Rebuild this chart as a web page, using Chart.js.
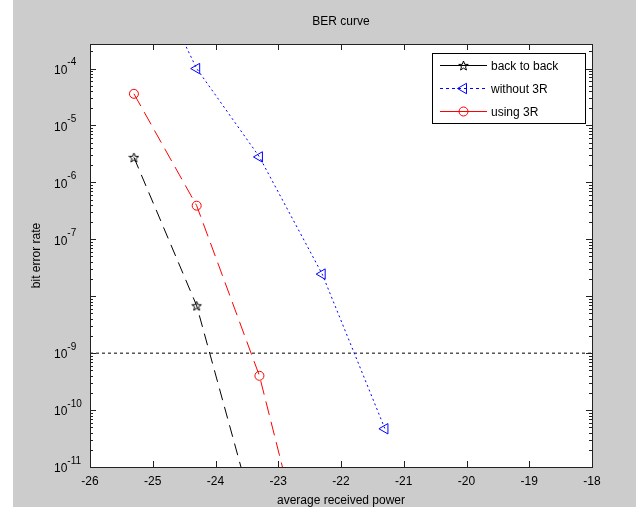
<!DOCTYPE html>
<html>
<head>
<meta charset="utf-8">
<title>BER curve</title>
<script src="https://cdn.jsdelivr.net/npm/chart.js@4/dist/chart.umd.min.js"></script>
<style>
  body { margin: 0; background: #fff; }
  canvas { display: block; }
</style>
</head>
<body>
<canvas id="chart" width="636" height="512"></canvas>
<script>
// values (x in dBm, y = BER)
const backToBackPower = [-25.3, -24.3, -23.3];
const backToBackBer = [2.75e-6, 6.8e-9, 6.6e-13];

const without3rPower = [-25.3, -24.3, -23.3, -22.3, -21.3];
const without3rBer = [1.9e-2, 1.0e-4, 2.8e-6, 2.45e-8, 4.7e-11];

const using3rPower = [-25.3, -24.3, -23.3, -22.3];
const using3rBer = [3.6e-5, 3.9e-7, 4.0e-10, 1.7e-14];

const thresholdPower = [-26, -18];
const thresholdBer = [1e-9, 1e-9];

const xTickValues = [-26, -25, -24, -23, -22, -21, -20, -19, -18];
const yDecades = [-11, -10, -9, -8, -7, -6, -5, -4];
const yUnlabeled = [-8];

const FONT = '"Liberation Sans", Arial, Helvetica, sans-serif';

function toPoints(xs, ys) {
  return xs.map((x, i) => ({ x: x, y: ys[i] }));
}

function makeStar(size) {
  const c = document.createElement("canvas");
  c.width = size;
  c.height = size;
  const g = c.getContext("2d");
  const cx = size / 2, cy = size / 2 + 0.5;
  const R = size / 2 - 0.5, r = R * 0.42;
  g.beginPath();
  for (let i = 0; i < 10; i++) {
    const rad = i % 2 ? r : R;
    const a = -Math.PI / 2 + (i * Math.PI) / 5;
    const px = cx + rad * Math.cos(a), py = cy + rad * Math.sin(a);
    if (i === 0) g.moveTo(px, py); else g.lineTo(px, py);
  }
  g.closePath();
  g.strokeStyle = "#000";
  g.lineWidth = 1;
  g.stroke();
  return c;
}
const starMarker = makeStar(11);

function drawMarker(ctx, ds, x, y) {
  ctx.save();
  ctx.setLineDash([]);
  ctx.strokeStyle = ds.borderColor;
  ctx.lineWidth = 1;
  if (ds.pointStyle === "triangle") {
    const r = ds.pointRadius;
    ctx.beginPath();
    ctx.moveTo(x - r, y);
    ctx.lineTo(x + r * 0.5, y - r * 0.87);
    ctx.lineTo(x + r * 0.5, y + r * 0.87);
    ctx.closePath();
    ctx.stroke();
  } else if (ds.pointStyle === "circle") {
    ctx.beginPath();
    ctx.arc(x, y, ds.pointRadius, 0, Math.PI * 2);
    ctx.stroke();
  } else {
    ctx.drawImage(starMarker, x - starMarker.width / 2, y - starMarker.height / 2);
  }
  ctx.restore();
}

const matlabLook = {
  id: "matlabLook",
  beforeDraw(chart) {
    const ctx = chart.ctx;
    const a = chart.chartArea;
    ctx.save();
    ctx.fillStyle = "#fff";
    ctx.fillRect(0, 0, chart.width, chart.height);
    ctx.fillStyle = "#cccccc";
    ctx.fillRect(13, 0, chart.width - 13, 507);
    ctx.fillStyle = "#fff";
    ctx.fillRect(a.left, a.top, a.right - a.left, a.bottom - a.top);
    ctx.restore();
  },
  afterDraw(chart) {
    const ctx = chart.ctx;
    const a = chart.chartArea;
    const xs = chart.scales.x;
    const ys = chart.scales.y;
    ctx.save();
    ctx.strokeStyle = "#222";
    ctx.lineWidth = 1;
    ctx.setLineDash([]);

    // box
    ctx.strokeRect(Math.round(a.left) + 0.5, Math.round(a.top) + 0.5,
      Math.round(a.right - a.left), Math.round(a.bottom - a.top));

    // x ticks, inward on bottom and top
    ctx.beginPath();
    xs.ticks.forEach(t => {
      const px = Math.round(xs.getPixelForValue(t.value)) + 0.5;
      ctx.moveTo(px, a.bottom);
      ctx.lineTo(px, a.bottom - 6);
      ctx.moveTo(px, a.top);
      ctx.lineTo(px, a.top + 6);
    });
    // y ticks, inward on left and right
    ys.ticks.forEach(t => {
      const e = Math.log10(t.value);
      const major = Math.abs(e - Math.round(e)) < 1e-6;
      const len = major ? 6 : 3;
      const py = Math.round(ys.getPixelForValue(t.value)) + 0.5;
      ctx.moveTo(a.left, py);
      ctx.lineTo(a.left + len, py);
      ctx.moveTo(a.right, py);
      ctx.lineTo(a.right - len, py);
    });
    ctx.stroke();

    // y tick labels as 10 with superscript exponent
    ctx.fillStyle = "#000";
    ctx.textBaseline = "middle";
    ctx.textAlign = "left";
    yDecades.forEach(e => {
      if (yUnlabeled.includes(e)) return;
      const py = ys.getPixelForValue(Math.pow(10, e));
      ctx.font = "12px " + FONT;
      ctx.fillText("10", 54, py + 2);
      const w = ctx.measureText("10").width;
      ctx.font = "10px " + FONT;
      ctx.fillText(String(e), 54 + w, py - 6);
    });

    // titles
    ctx.font = "12px " + FONT;
    ctx.textAlign = "center";
    const midX = (a.left + a.right) / 2;
    ctx.fillText("BER curve", midX, 22);
    ctx.fillText("average received power", midX, 501);
    ctx.save();
    ctx.translate(37, (a.top + a.bottom) / 2);
    ctx.rotate(-Math.PI / 2);
    ctx.fillText("bit error rate", 0, 0);
    ctx.restore();

    // legend box
    const lx = 432, ly = 53, lw = 153, lh = 70;
    ctx.fillStyle = "#fff";
    ctx.fillRect(lx, ly, lw, lh);
    ctx.strokeStyle = "#000";
    ctx.strokeRect(lx + 0.5, ly + 0.5, lw, lh);
    const rows = [65, 88, 111];
    chart.data.datasets.filter(ds => ds.inLegend).forEach((ds, i) => {
      const y = rows[i] + 0.5;
      ctx.strokeStyle = ds.borderColor;
      ctx.setLineDash(ds.legendDash);
      ctx.beginPath();
      ctx.moveTo(440, y);
      ctx.lineTo(487, y);
      ctx.stroke();
      drawMarker(ctx, ds, 463.5, y);
      ctx.fillStyle = "#000";
      ctx.textAlign = "left";
      ctx.font = "12px " + FONT;
      ctx.fillText(ds.label, 491, y + 1);
    });
    ctx.restore();
  },
};

const chart = new Chart(document.getElementById("chart"), {
  type: "scatter",
  data: {
    datasets: [
      {
        label: "back to back",
        inLegend: true,
        legendDash: [],
        data: toPoints(backToBackPower, backToBackBer),
        showLine: true,
        borderColor: "#000000",
        borderWidth: 1,
        borderDash: [12, 7],
        pointStyle: starMarker,
        pointRadius: 5,
        backgroundColor: "transparent",
      },
      {
        label: "without 3R",
        inLegend: true,
        legendDash: [3, 3],
        data: toPoints(without3rPower, without3rBer),
        showLine: true,
        borderColor: "#0000ff",
        borderWidth: 1,
        borderDash: [2, 3],
        pointStyle: "triangle",
        rotation: 270,
        pointRadius: 6,
        pointBorderWidth: 1,
        backgroundColor: "transparent",
      },
      {
        label: "using 3R",
        inLegend: true,
        legendDash: [],
        data: toPoints(using3rPower, using3rBer),
        showLine: true,
        borderColor: "#ff0000",
        borderWidth: 1,
        borderDash: [14, 7],
        pointStyle: "circle",
        pointRadius: 4.5,
        pointBorderWidth: 1,
        backgroundColor: "transparent",
      },
      {
        label: "threshold",
        inLegend: false,
        data: toPoints(thresholdPower, thresholdBer),
        showLine: true,
        borderColor: "#000000",
        borderWidth: 1,
        borderDash: [3, 3],
        pointRadius: 0,
      },
    ],
  },
  options: {
    responsive: false,
    animation: false,
    events: [],
    layout: { padding: { top: 44, right: 44, left: 0, bottom: 0 } },
    plugins: {
      legend: { display: false },
      tooltip: { enabled: false },
    },
    scales: {
      x: {
        type: "linear",
        min: -26,
        max: -18,
        afterBuildTicks: scale => {
          scale.ticks = xTickValues.map(v => ({ value: v }));
        },
        afterFit: scale => {
          scale.height = 45;
        },
        grid: { display: false },
        border: { display: false },
        ticks: {
          color: "#000",
          font: { size: 12, family: FONT },
          padding: -1,
          maxRotation: 0,
          callback: v => String(v),
        },
      },
      y: {
        type: "logarithmic",
        min: 1e-11,
        max: 2.7e-4,
        afterBuildTicks: scale => {
          const list = [];
          yDecades.forEach(e => {
            for (let m = 1; m <= 9; m++) {
              const v = m * Math.pow(10, e);
              if (v >= scale.min && v <= scale.max) list.push({ value: v });
            }
          });
          scale.ticks = list;
        },
        afterFit: scale => {
          scale.width = 90;
        },
        grid: { display: false },
        border: { display: false },
        ticks: { display: false },
      },
    },
  },
  plugins: [matlabLook],
});
</script>
</body>
</html>
